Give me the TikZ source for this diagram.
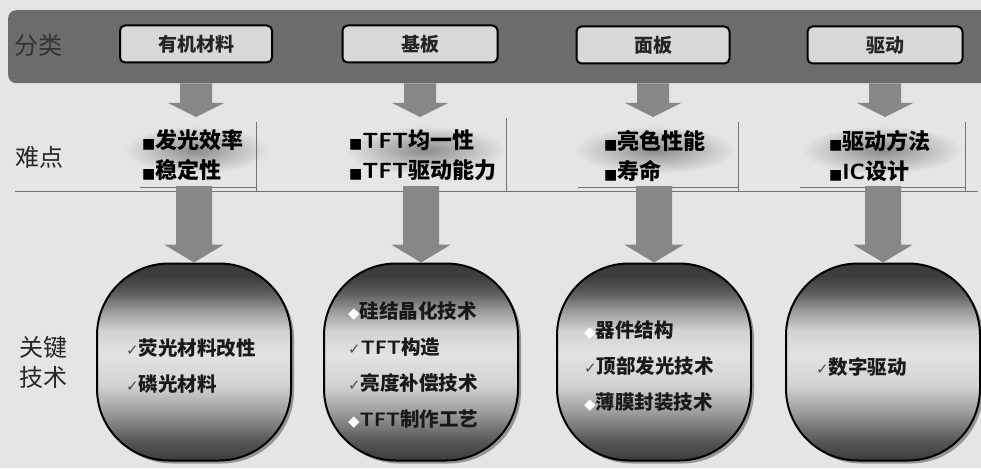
\documentclass[tikz,border=0pt]{standalone}
\usepackage{fontspec}
\newfontfamily\cjk{Noto Sans CJK SC}
\newfontfamily\sym{DejaVu Sans}
\usetikzlibrary{fadings,calc,shadows}
\definecolor{bg}{HTML}{E5E5E5}
\definecolor{bandc}{HTML}{6C6C6C}
\definecolor{boxfill}{HTML}{D8D8D8}
\definecolor{arrowc}{HTML}{878787}
\definecolor{sdark}{HTML}{3C3C3C}
\definecolor{sdark2}{HTML}{575757}
\definecolor{smid}{HTML}{9A9A9A}
\definecolor{slight}{HTML}{D2D2D2}
\definecolor{slight2}{HTML}{E2E2E2}
\pgfdeclareverticalshading{techshade}{100bp}{color(0bp)=(sdark); color(25bp)=(sdark); color(30bp)=(sdark2); color(37bp)=(smid); color(44bp)=(slight); color(52bp)=(slight2); color(58bp)=(slight); color(63bp)=(smid); color(68bp)=(sdark2); color(72bp)=(sdark); color(100bp)=(sdark)}
\tikzfading[name=fuzzy, inner color=transparent!0, outer color=transparent!100]
\newcommand\chk{{\sym\fontsize{15}{15}\selectfont\color{black!70}✓}}
\newcommand\dia{{\sym\fontsize{15}{15}\selectfont\color{white}◆}}
\newcommand\sq{{\sym\fontsize{14}{14}\selectfont■}}
\newcommand\blockarrow[5]{\fill[arrowc] ($(#1)+(-#3,0)$) -- ($(#1)+(#3,0)$) -- ($(#2)+(#3,-#5)$) -- ($(#2)+(#4,-#5)$) -- (#2) -- ($(#2)+(-#4,-#5)$) -- ($(#2)+(-#3,-#5)$) -- cycle;}
\tikzset{
  catbox/.style={draw=black, line width=2pt, fill=boxfill, rounded corners=5pt, minimum height=37pt, inner sep=0pt, font=\cjk\fontsize{19}{19}\selectfont\bfseries, text=black!85},
  rowlabel/.style={font=\cjk\fontsize{24}{30}\selectfont, align=center, text=black!85},
  hard/.style={font=\cjk\fontsize{22}{30}\selectfont\bfseries, align=left, text=black, anchor=west, inner sep=0pt},
  tech/.style={draw=black, line width=2pt, rounded corners=72pt, minimum width=194pt, minimum height=197pt, shade, shading=techshade, drop shadow={shadow xshift=3pt, shadow yshift=-3pt, fill=black, opacity=0.35}},
  techtxt/.style={font=\cjk\fontsize{19.5}{36}\selectfont\bfseries, align=left, text=black!90, anchor=west, inner sep=0pt},
  guide/.style={draw=black!55, line width=0.7pt},
  blob/.style={fill=black!45, path fading=fuzzy}
}
\begin{document}
\begin{tikzpicture}[x=1pt,y=-1pt]
\useasboundingbox (0,0) rectangle (981,468);
\fill[bg] (0,0) rectangle (981,468);
% top band
\node[draw=none, fill=bandc, rounded corners=8pt, minimum width=990pt, minimum height=73pt, anchor=north west, inner sep=0pt] (band) at (8,10) {};
\node[rowlabel, text=black!80] (lcat) at (38,45) {分类};
\node[catbox, minimum width=152pt] (c1) at (196,44) {有机材料};
\node[catbox, minimum width=155pt] (c2) at (420,44) {基板};
\node[catbox, minimum width=153pt] (c3) at (653,45) {面板};
\node[catbox, minimum width=155pt] (c4) at (885,45) {驱动};
% middle row
\fill[blob] (196,150) ellipse (72 and 24);
\fill[blob] (425,150) ellipse (80 and 24);
\fill[blob] (655,150) ellipse (80 and 24);
\fill[blob] (882,150) ellipse (80 and 24);
\draw[guide] (15,191) -- (978,191);
\draw[guide] (256,122) -- (256,191);
\draw[guide] (506,118) -- (506,191);
\draw[guide] (738,122) -- (738,191);
\draw[guide] (965,122) -- (965,191);
\draw[guide] (140,187) -- (256,187);
\draw[guide] (578,187) -- (738,187);
\draw[guide] (800,187) -- (965,187);
\node[rowlabel] (ldiff) at (39,157) {难点};
\node[hard] (h1) at (142,155) {\sq 发光效率\\\sq 稳定性};
\node[hard] (h2) at (349,155) {\sq{\sffamily\bfseries TFT}均一性\\\sq{\sffamily\bfseries TFT}驱动能力};
\node[hard] (h3) at (604,156) {\sq 亮色性能\\\sq 寿命};
\node[hard] (h4) at (829,156) {\sq 驱动方法\\\sq{\sffamily\bfseries IC}设计};
% arrows band -> middle
\coordinate (s1) at (c1 |- band.south); \coordinate (e1) at (196,117);
\coordinate (s2) at (c2 |- band.south); \coordinate (e2) at (420,117);
\coordinate (s3) at (c3 |- band.south); \coordinate (e3) at (653,117);
\coordinate (s4) at (c4 |- band.south); \coordinate (e4) at (885,117);
\foreach \i in {1,2,3,4} {\blockarrow{s\i}{e\i}{16}{28}{14}}
% bottom row
\node[rowlabel] (lkey) at (43,362) {关键\\技术};
\node[tech] (t1) at (194,362) {};
\node[tech] (t2) at (421,362) {};
\node[tech] (t3) at (654,362) {};
\node[tech] (t4) at (883,362) {};
\coordinate (m1) at (194,186); \coordinate (m2) at (421,186);
\coordinate (m3) at (654,186); \coordinate (m4) at (883,186);
\foreach \i in {1,2,3,4} {\blockarrow{m\i}{t\i.north}{18}{30}{18}}
\node[techtxt] (k1) at (126,366) {\chk 荧光材料改性\\\chk 磷光材料};
\node[techtxt] (k2) at (348,365) {\dia 硅结晶化技术\\\chk{\sffamily\bfseries TFT}构造\\\chk 亮度补偿技术\\\dia{\sffamily\bfseries TFT}制作工艺};
\node[techtxt] (k3) at (584,366) {\dia 器件结构\\\chk 顶部发光技术\\\dia 薄膜封装技术};
\node[techtxt] (k4) at (816,367) {\chk 数字驱动};
\end{tikzpicture}
\end{document}
